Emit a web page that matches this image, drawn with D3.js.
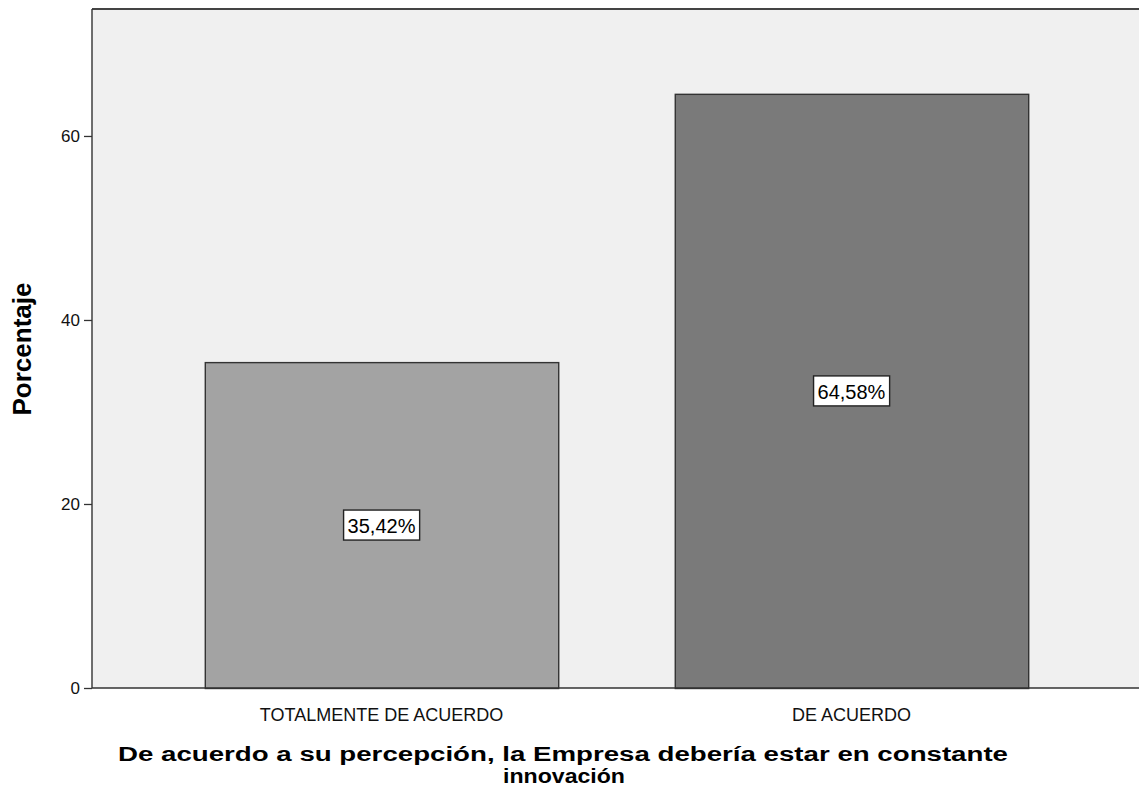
<!DOCTYPE html>
<html><head><meta charset="utf-8">
<script src="https://cdn.jsdelivr.net/npm/d3@7/dist/d3.min.js"></script>
<style>body{margin:0;background:#fff}svg{display:block;font-family:Arial,"Liberation Sans",sans-serif}</style>
</head><body><svg id="c" width="1139" height="792"></svg>
<script>
const categories = ["TOTALMENTE DE ACUERDO", "DE ACUERDO"];
const values = [35.42, 64.58];
const valueLabels = ["35,42%", "64,58%"];
const yTicks = [0, 20, 40, 60];
const barColors = ["#a3a3a3", "#7a7a7a"];
const xTitle = ["De acuerdo a su percepción, la Empresa debería estar en constante", "innovación"];
const yTitle = "Porcentaje";

(function () {
const svg = d3.select("#c");
const FF = "Arial, 'Liberation Sans', sans-serif";
const mLeft = 92, mTop = 9, mBottom = 688, mRight = 1141;
const x = d3.scaleBand().domain(categories).range([mLeft, mRight]).paddingInner(0.248).paddingOuter(0.24);
const y = d3.scaleLinear().domain([0, 73.8]).range([mBottom, mTop]);

svg.append("rect").attr("x", mLeft).attr("y", mTop).attr("width", 1139 - mLeft).attr("height", mBottom - mTop).attr("fill", "#f0f0f0");
svg.append("line").attr("x1", mLeft).attr("x2", 1139).attr("y1", mTop).attr("y2", mTop).attr("stroke", "#444").attr("stroke-width", 2);

svg.selectAll("rect.bar").data(values).join("rect").attr("class", "bar")
  .attr("x", (d, i) => x(categories[i]) + 0.5)
  .attr("y", d => y(d) + 0.5)
  .attr("width", x.bandwidth())
  .attr("height", d => y(0) - y(d))
  .attr("fill", (d, i) => barColors[i])
  .attr("stroke", "#333").attr("stroke-width", 1.4);

const ya = svg.append("g").attr("transform", `translate(${mLeft},0)`)
  .call(d3.axisLeft(y).tickValues(yTicks).tickSize(8).tickPadding(4));
ya.select(".domain").remove();
ya.selectAll("line").attr("stroke", "#333").attr("stroke-width", 1.3);
ya.selectAll("text").attr("font-size", 17).attr("fill", "#111").attr("font-family", FF);
svg.append("line").attr("x1", mLeft).attr("x2", mLeft).attr("y1", mTop).attr("y2", mBottom).attr("stroke", "#333").attr("stroke-width", 1.4);

const xa = svg.append("g").attr("transform", `translate(0,${mBottom})`)
  .call(d3.axisBottom(x).tickSize(0).tickPadding(20));
xa.select(".domain").remove();
xa.selectAll("text").attr("font-size", 18).attr("fill", "#111").attr("font-family", FF);
svg.append("line").attr("x1", mLeft).attr("x2", 1139).attr("y1", mBottom).attr("y2", mBottom).attr("stroke", "#333").attr("stroke-width", 1.4);

values.forEach((v, i) => {
  const cx = x(categories[i]) + x.bandwidth() / 2;
  const cy = y(v / 2);
  const g = svg.append("g");
  const t = g.append("text").attr("x", cx).attr("y", cy + 1).attr("text-anchor", "middle")
    .attr("dominant-baseline", "central").attr("font-size", 20).attr("fill", "#000").attr("font-family", FF).text(valueLabels[i]);
  const bb = t.node().getBBox();
  g.insert("rect", "text").attr("x", bb.x - 4).attr("y", cy - 15).attr("width", bb.width + 8).attr("height", 30)
    .attr("fill", "#fff").attr("stroke", "#222").attr("stroke-width", 1.4);
});

svg.append("text").attr("transform", "translate(31,349) rotate(-90)").attr("text-anchor", "middle")
  .attr("font-size", 26).attr("font-weight", "bold").attr("fill", "#000").attr("font-family", FF).text(yTitle);
svg.append("text").attr("x", 563).attr("y", 761).attr("text-anchor", "middle")
  .attr("font-size", 20).attr("font-weight", "bold").attr("fill", "#000").attr("font-family", FF)
  .attr("textLength", 890).attr("lengthAdjust", "spacingAndGlyphs").text(xTitle[0]);
svg.append("text").attr("x", 564).attr("y", 783).attr("text-anchor", "middle")
  .attr("font-size", 20).attr("font-weight", "bold").attr("fill", "#000").attr("font-family", FF)
  .attr("textLength", 122).attr("lengthAdjust", "spacingAndGlyphs").text(xTitle[1]);
})();
</script></body></html>
